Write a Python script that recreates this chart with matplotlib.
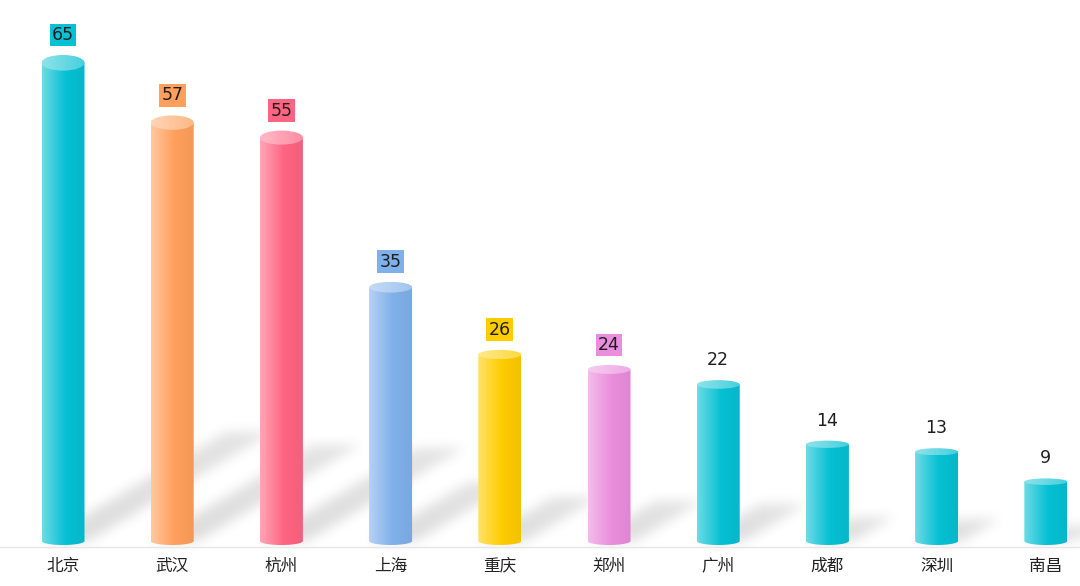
"""Cylinder bar chart with soft cast shadows."""

import numpy as np
import matplotlib
matplotlib.use('Agg')
import matplotlib.pyplot as plt
from matplotlib.patches import Ellipse, Polygon
from matplotlib.colors import to_rgb

plt.rcParams['font.family'] = ['Noto Sans CJK SC', 'DejaVu Sans']

# data
cities = ['北京', '武汉', '杭州', '上海', '重庆', '郑州', '广州', '成都', '深圳', '南昌']
counts = [65, 57, 55, 35, 26, 24, 22, 14, 13, 9]
bar_colors = ['#06c0d3', '#ffa05c', '#ff6482', '#80b0ea', '#ffcc00',
              '#ea8ddc', '#06c0d3', '#06c0d3', '#06c0d3', '#06c0d3']
boxed = [True, True, True, True, True, True, False, False, False, False]

# layout (pixels)
W_PX, H_PX = 1080, 586
X0_PX, STEP_PX = 63, 109.2      # first bar centre, bar spacing
Y0_PX, UNIT_PX = 549, 7.48      # zero line (from top), pixels per unit
BAR_PX = 43


def ux(px):
    return px / STEP_PX


def uy(px):
    return px / UNIT_PX


def tint(c, f):
    c = np.array(to_rgb(c))
    return c + (1 - c) * f


def shade(c, f):
    return np.array(to_rgb(c)) * (1 - f)


def h_gradient(stops, n=96):
    """Horizontal RGB gradient, stops = [(pos, rgb), ...]."""
    pos = [s[0] for s in stops]
    t = np.linspace(0, 1, n)
    img = np.zeros((1, n, 3))
    for k in range(3):
        img[0, :, k] = np.interp(t, pos, [s[1][k] for s in stops])
    return img


fig = plt.figure(figsize=(W_PX / 100, H_PX / 100), dpi=100)
ax = fig.add_axes([0, 0, 1, 1])
xlim = (-ux(X0_PX), ux(W_PX - X0_PX))
ylim = (-uy(H_PX - Y0_PX), uy(Y0_PX))
ax.set_xlim(*xlim)
ax.set_ylim(*ylim)
ax.axis('off')
fig.canvas.draw()

bw = ux(BAR_PX)
base = uy(8)           # bottom ellipse centre
base_eh = uy(8)        # bottom ellipse height

# --- soft shadows, rasterised in pixel space ---
yy, xx = np.mgrid[0:H_PX, 0:W_PX] + 0.5
yd = H_PX - yy
shadow = np.zeros((H_PX, W_PX))
for i, n in enumerate(counts):
    (xl, y0), (xr, _) = ax.transData.transform([(i - bw / 2, base), (i + bw / 2, base)])
    h_px = n * UNIT_PX
    dx, dy = 0.38 * h_px, 0.225 * h_px
    t = (yd - y0) / dy
    off = t * dx
    inside = (t >= 0) & (t <= 1) & (xx >= xl + off) & (xx <= xr + 4 + off)
    shadow = np.maximum(shadow, np.where(inside, 1 - 0.2 * t, 0))


def box_blur(a, r):
    k = 2 * r + 1
    p = np.pad(a, ((0, 0), (r + 1, r)), mode='edge')
    c = np.cumsum(p, axis=1)
    a = (c[:, k:] - c[:, :-k]) / k
    p = np.pad(a, ((r + 1, r), (0, 0)), mode='edge')
    c = np.cumsum(p, axis=0)
    return (c[k:, :] - c[:-k, :]) / k


for _ in range(3):
    shadow = box_blur(shadow, 5)

rgba = np.zeros((H_PX, W_PX, 4))
rgba[..., :3] = 0.3
rgba[..., 3] = shadow * 0.19
ax.imshow(rgba, extent=(*xlim, *ylim), origin='upper', aspect='auto',
          interpolation='bilinear', zorder=1)

# baseline
ax.axhline(uy(2), color='#e6e6e6', lw=1, zorder=1.5)

# --- cylinders ---
arc = np.linspace(np.pi, 2 * np.pi, 40)
for i, (n, c) in enumerate(zip(counts, bar_colors)):
    h_px = n * UNIT_PX
    top_eh = uy(5 + 0.022 * h_px)

    body = h_gradient([(0, tint(c, 0.42)), (0.55, to_rgb(c)), (1, shade(c, 0.05))])
    pts = [(i - bw / 2, n), (i - bw / 2, base)]
    pts += list(zip(i + bw / 2 * np.cos(arc), base + base_eh / 2 * np.sin(arc)))
    pts += [(i + bw / 2, base), (i + bw / 2, n)]
    clip = Polygon(pts, closed=True, transform=ax.transData)
    im = ax.imshow(body, extent=(i - bw / 2, i + bw / 2, base - base_eh / 2, n),
                   aspect='auto', interpolation='bilinear', zorder=3)
    im.set_clip_path(clip)

    top = h_gradient([(0, tint(c, 0.55)), (1, tint(c, 0.25))])
    ell = Ellipse((i, n), bw, top_eh, transform=ax.transData)
    im = ax.imshow(top, extent=(i - bw / 2, i + bw / 2, n - top_eh / 2, n + top_eh / 2),
                   aspect='auto', interpolation='bilinear', zorder=4)
    im.set_clip_path(ell)

    # value label
    ly = n + top_eh / 2 + uy(20)
    box = dict(boxstyle='square,pad=0.14', fc=c, ec='none') if boxed[i] else None
    ax.text(i, ly, str(n), ha='center', va='center', fontsize=12.5,
            family=['DejaVu Sans'],
            color='#1e1e1e', bbox=box, zorder=5)

    # category label
    ax.text(i, -uy(17), cities[i], ha='center', va='center', fontsize=12,
            color='#222222', zorder=5)

ax.set_xlim(*xlim)
ax.set_ylim(*ylim)
fig.savefig('out.png', dpi=100, facecolor='white')
